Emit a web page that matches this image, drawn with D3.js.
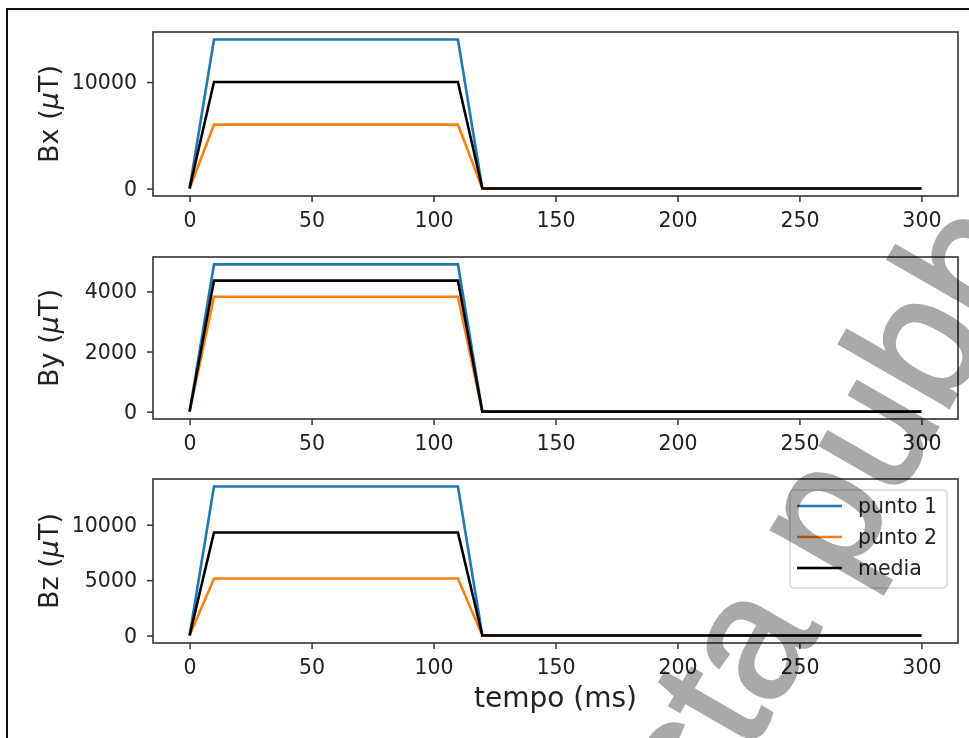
<!DOCTYPE html>
<html>
<head>
<meta charset="utf-8">
<script src="https://cdn.jsdelivr.net/npm/d3@7"></script>
<style>
  body { margin: 0; background: #fff; }
  svg { display: block; font-family: "DejaVu Sans", sans-serif; }
</style>
</head>
<body>
<svg id="chart" width="969" height="738"></svg>
<script>
// tempo (ms) and field components for the two points + mean
const tempo = [0, 10, 110, 120, 300];
const bxPunto1 = [0, 14000, 14000, 0, 0];
const bxPunto2 = [0, 6000, 6000, 0, 0];
const bxMedia  = [0, 10000, 10000, 0, 0];
const byPunto1 = [0, 4900, 4900, 0, 0];
const byPunto2 = [0, 3820, 3820, 0, 0];
const byMedia  = [0, 4360, 4360, 0, 0];
const bzPunto1 = [0, 13450, 13450, 0, 0];
const bzPunto2 = [0, 5150, 5150, 0, 0];
const bzMedia  = [0, 9300, 9300, 0, 0];

const xTicks = [0, 50, 100, 150, 200, 250, 300];
const seriesNames = ["punto 1", "punto 2", "media"];
const colors = ["#1f77b4", "#ff7f0e", "#000000"];

const panels = [
  {label: "Bx", series: [bxPunto1, bxPunto2, bxMedia], ticks: [0, 10000], top: 32, bottom: 196},
  {label: "By", series: [byPunto1, byPunto2, byMedia], ticks: [0, 2000, 4000], top: 257, bottom: 419},
  {label: "Bz", series: [bzPunto1, bzPunto2, bzMedia], ticks: [0, 5000, 10000], top: 479, bottom: 643}
];

const svg = d3.select("#chart");
const left = 153, right = 958;

// page frame
svg.append("path").attr("d", "M7,738 V9 H969").attr("fill", "none").attr("stroke", "#111").attr("stroke-width", 2);

const x = d3.scaleLinear().domain([-15, 315]).range([left, right]);

panels.forEach((p, pi) => {
  const yMax = d3.max(p.series.flat());
  const y = d3.scaleLinear().domain([-0.05 * yMax, 1.05 * yMax]).range([p.bottom, p.top]);
  const g = svg.append("g");

  const line = d3.line().x((d, i) => x(tempo[i])).y(d => y(d));
  p.series.forEach((s, si) => {
    g.append("path").datum(s).attr("d", line)
      .attr("fill", "none").attr("stroke", colors[si]).attr("stroke-width", 2.6)
      .attr("stroke-linejoin", "miter");
  });

  const xa = g.append("g").attr("transform", `translate(0,${p.bottom})`)
    .call(d3.axisBottom(x).tickValues(xTicks).tickSize(6).tickPadding(10).tickSizeOuter(0));
  const ya = g.append("g").attr("transform", `translate(${left},0)`)
    .call(d3.axisLeft(y).tickValues(p.ticks).tickSize(6).tickPadding(10).tickFormat(d3.format("d")));
  [xa, ya].forEach(a => {
    a.select(".domain").remove();
    a.selectAll("line").attr("stroke", "#333").attr("stroke-width", 1.5);
    a.selectAll("text").attr("font-size", "20.5px").attr("fill", "#222").attr("font-family", "DejaVu Sans");
  });

  g.append("rect").attr("x", left).attr("y", p.top).attr("width", right - left).attr("height", p.bottom - p.top)
    .attr("fill", "none").attr("stroke", "#333").attr("stroke-width", 1.6);

  const yl = g.append("text")
    .attr("transform", `translate(58,${(p.top + p.bottom) / 2}) rotate(-90)`)
    .attr("text-anchor", "middle").attr("font-size", "27px").attr("fill", "#222");
  yl.append("tspan").text(p.label + " (");
  yl.append("tspan").attr("font-style", "italic").text("\u03bc");
  yl.append("tspan").text("T)");

  if (pi === 2) {
    const lg = g.append("g");
    lg.append("rect").attr("x", 790).attr("y", 490).attr("width", 157).attr("height", 98).attr("rx", 4)
      .attr("fill", "#fff").attr("fill-opacity", 0.8).attr("stroke", "#d6d6d6").attr("stroke-width", 1.5);
    seriesNames.forEach((n, i) => {
      const yy = 506 + i * 31;
      lg.append("line").attr("x1", 797).attr("x2", 842).attr("y1", yy).attr("y2", yy)
        .attr("stroke", colors[i]).attr("stroke-width", 2.6);
      lg.append("text").attr("x", 858).attr("y", yy).attr("dy", "0.35em")
        .attr("font-size", "20.5px").attr("fill", "#222").text(n);
    });
  }
});

svg.append("text").attr("x", (left + right) / 2).attr("y", 707)
  .attr("text-anchor", "middle").attr("font-size", "28px").attr("fill", "#222").text("tempo (ms)");

// diagonal watermark over the figure (cut by the page edge, as in the scan)
svg.append("text")
  .attr("transform", "translate(705,830) rotate(-60)")
  .attr("font-family", "Liberation Sans").attr("font-size", "175px")
  .attr("fill", "#a9a9a9").attr("stroke", "#a9a9a9").attr("stroke-width", 3)
  .style("mix-blend-mode", "multiply")
  .text("sta pubb");
</script>
</body>
</html>
